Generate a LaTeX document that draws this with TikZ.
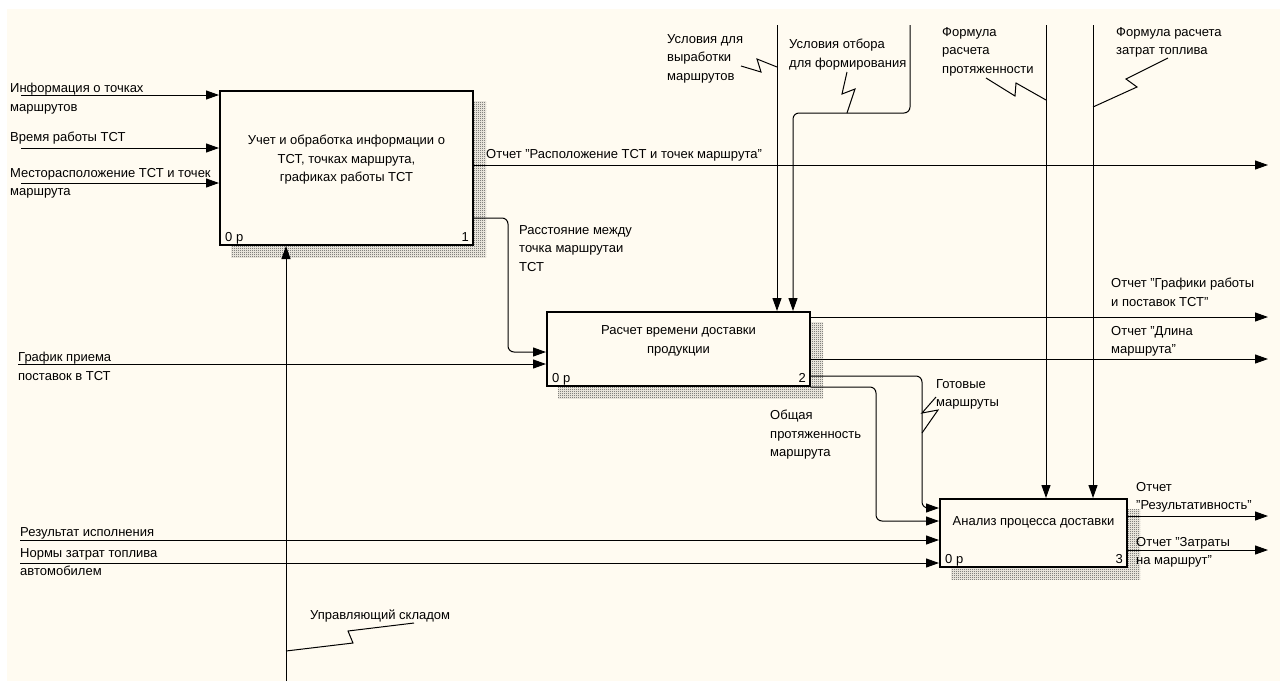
\documentclass[tikz,border=0pt]{standalone}
\usepackage{fontspec}
\setmainfont{Liberation Sans}
\usetikzlibrary{arrows.meta,patterns,backgrounds}
\definecolor{paper}{RGB}{255,251,241}
\pgfdeclarepatternformonly{fine checks}{\pgfpointorigin}{\pgfqpoint{2pt}{2pt}}{\pgfqpoint{2pt}{2pt}}{%
    \pgfpathrectangle{\pgfpointorigin}{\pgfqpoint{1pt}{1pt}}%
    \pgfpathrectangle{\pgfqpoint{1pt}{1pt}}{\pgfqpoint{1pt}{1pt}}%
    \pgfusepath{fill}}

\begin{document}
\begin{tikzpicture}[x=1pt, y=-1pt,
        font=\fontsize{13}{18.5}\selectfont,
        fnbox/.style={draw, line width=2pt, fill=paper, inner sep=0pt},
        lbl/.style={anchor=north west, inner sep=0pt, align=left},
        arr/.style={-{Triangle[length=13pt,width=9pt]}, line width=1pt, rounded corners=6pt},
        zig/.style={line width=1pt}]
    \useasboundingbox (0,0) rectangle (1280,681);

    % functions
    \node[fnbox, minimum width=253pt, minimum height=154pt] (box1) at (346.5,168) {};
    \node[fnbox, minimum width=263pt, minimum height=74pt] (box2) at (678.5,349) {};
    \node[fnbox, minimum width=187pt, minimum height=68pt] (box3) at (1033.5,533) {};
    \node[align=center] (t1) at ([yshift=8pt]box1.center) {Учет и обработка информации о\\ТСТ, точках маршрута,\\графиках работы ТСТ};
    \node[align=center] (t2) at ([yshift=8pt]box2.center) {Расчет времени доставки\\продукции};
    \node[align=center] (t3) at ([yshift=11pt]box3.center) {Анализ процесса доставки};
    \foreach \b/\n in {box1/1, box2/2, box3/3} {
        \node[anchor=base west, inner sep=0pt] (\b p) at ([xshift=6pt,yshift=5pt]\b.south west) {0 р};
        \node[anchor=base east, inner sep=0pt] (\b n) at ([xshift=-5pt,yshift=5pt]\b.south east) {\n};
    }

    % labels
    \node[lbl] (li1) at (10,83) {Информация о точках\\маршрутов};
    \node[lbl] (li2) at (10,132) {Время работы ТСТ};
    \node[lbl] (li3) at (10,168) {Месторасположение ТСТ и точек\\маршрута};
    \node[lbl] (li4) at (18,352) {График приема\\поставок в ТСТ};
    \node[lbl] (li5) at (20,527) {Результат исполнения};
    \node[lbl] (li6) at (20,548) {Нормы затрат топлива\\автомобилем};
    \node[lbl] (lm1) at (310,610) {Управляющий складом};
    \node[lbl] (lc1) at (667,34) {Условия для\\выработки\\маршрутов};
    \node[lbl] (lc2) at (789,39) {Условия отбора\\для формирования};
    \node[lbl] (lc3) at (942,27) {Формула\\расчета\\протяженности};
    \node[lbl] (lc4) at (1116,27) {Формула расчета\\затрат топлива};
    \node[lbl] (lo1) at (486,149) {Отчет "Расположение ТСТ и точек маршрута"};
    \node[lbl] (l12) at (519,225) {Расстояние между\\точка маршрутаи\\ТСТ};
    \node[lbl] (lo2) at (1111,278) {Отчет "Графики работы\\и поставок ТСТ"};
    \node[lbl] (lo3) at (1111,326) {Отчет "Длина\\маршрута"};
    \node[lbl] (l23a) at (936,379) {Готовые\\маршруты};
    \node[lbl] (l23b) at (770,410) {Общая\\протяженность\\маршрута};
    \node[lbl] (lo4) at (1136,482) {Отчет\\"Результативность"};
    \node[lbl] (lo5) at (1136,537) {Отчет "Затраты\\на маршрут"};

    % free ends
    \coordinate (i1) at (21,95);
    \coordinate (i2) at (21,148);
    \coordinate (i3) at (21,183);
    \coordinate (i4) at (18,364);
    \coordinate (i5) at (20,540);
    \coordinate (i6) at (20,563);
    \coordinate (m1) at (286,681);
    \coordinate (c1) at (777,25);
    \coordinate (c2) at (910,25);
    \coordinate (c3) at (1046,25);
    \coordinate (c4) at (1093,25);
    \coordinate (e1) at (1268,165);
    \coordinate (e2) at (1268,317);
    \coordinate (e3) at (1268,359);
    \coordinate (e4) at (1268,516);
    \coordinate (e5) at (1268,550);
    \coordinate (k2) at (793,113);
    \coordinate (k12) at (508,352);
    \coordinate (k23a) at (922,508);
    \coordinate (k23b) at (876,521);

    % inputs
    \foreach \i in {i1,i2,i3}
        \draw[arr] (\i) -- (\i -| box1.west);
    \draw[arr] (i4) -- (i4 -| box2.west);
    \foreach \i in {i5,i6}
        \draw[arr] (\i) -- (\i -| box3.west);

    % controls and mechanism
    \draw[arr] (m1) -- (m1 |- box1.south);
    \draw[arr] (c1) -- (c1 |- box2.north);
    \draw[arr] (c2) |- (k2) -- (k2 |- box2.north);
    \draw[arr] (c3) -- (c3 |- box3.north);
    \draw[arr] (c4) -- (c4 |- box3.north);

    % outputs
    \draw[arr] (box1.east |- e1) -- (e1);
    \draw[arr] (box1.east |- 0,218) -| (k12) -- (k12 -| box2.west);
    \draw[arr] (box2.east |- e2) -- (e2);
    \draw[arr] (box2.east |- e3) -- (e3);
    \draw[arr] (box2.east |- 0,376) -| (k23a) -- (k23a -| box3.west);
    \draw[arr] (box2.east |- 0,387) -| (k23b) -- (k23b -| box3.west);
    \draw[arr] (box3.east |- e4) -- (e4);
    \draw[arr] (box3.east |- e5) -- (e5);

    % squiggles
    \draw[zig] (741,66) -- (761,72) -- (757,59) -- (c1 |- 0,67);
    \draw[zig] (847,72) -- (842,94) -- (855,89) -- (847,113);
    \draw[zig] (986,78) -- (1015,96) -- (1016,83) -- (c3 |- 0,100);
    \draw[zig] (1168,58) -- (1126,79) -- (1137,87) -- (c4 |- 0,107);
    \draw[zig] (936,397) -- (k23a |- 0,413) -- (938,410) -- (k23a |- 0,433);
    \draw[zig] (m1 |- 0,651) -- (353,643) -- (348,631) -- (414,623);

    % page and shadows
    \begin{scope}[on background layer]
        \fill[paper] (7,9) rectangle (1280,681);
        \foreach \b in {box1,box2,box3}
            \fill[pattern=fine checks, pattern color=black!75]
                ([xshift=12pt,yshift=-11pt]\b.south west) rectangle ([xshift=12pt,yshift=-11pt]\b.north east);
    \end{scope}
\end{tikzpicture}
\end{document}
